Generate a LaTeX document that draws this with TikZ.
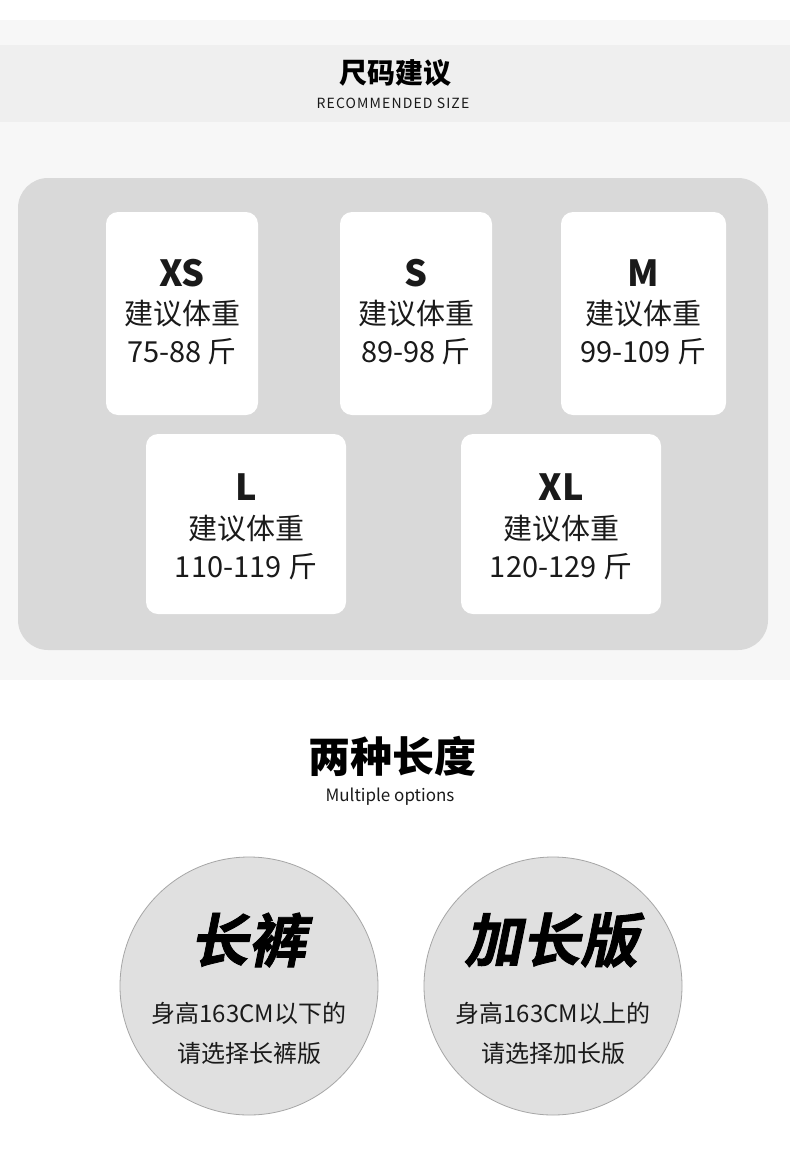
\documentclass[tikz,border=0pt]{standalone}
\usepackage{fontspec}
\setmainfont{Noto Sans CJK SC}
\newfontfamily\slantcjk[FakeSlant=0.2,FakeBold=1.5]{Noto Sans CJK SC Bold}
\newfontfamily\spacedfont[LetterSpace=8]{Noto Sans CJK SC}
\definecolor{bandgray}{HTML}{EFEFEF}
\definecolor{pagegray}{HTML}{F7F7F7}
\definecolor{boxgray}{HTML}{D9D9D9}
\definecolor{circgray}{HTML}{E0E0E0}
\definecolor{textdark}{HTML}{1A1A1A}
\tikzset{
  card/.style = {fill = white, rounded corners = 12pt},
  sizename/.style = {font = \fontsize{36}{36}\selectfont\bfseries, text = textdark},
  cardtext/.style = {font = \fontsize{29}{29}\selectfont, text = textdark},
  disc/.style = {circle, fill = circgray, draw = gray!70, line width = 0.8pt, minimum size = 258pt},
  disctitle/.style = {font = \fontsize{58}{58}\slantcjk, text = black},
  disctext/.style = {font = \fontsize{24}{24}\selectfont, text = textdark}
}
\begin{document}
\begin{tikzpicture}[x = 1pt, y = -1pt]
  \useasboundingbox (0, 0) rectangle (790, 1172);
  % backgrounds
  \fill [white] (0, 0) rectangle (790, 1172);
  \fill [pagegray] (0, 20) rectangle (790, 680);
  \fill [bandgray] (0, 45) rectangle (790, 122);
  \node [font = \fontsize{28}{28}\selectfont\bfseries] (title) at (395, 73) {尺码建议};
  \node [font = \fontsize{14}{14}\spacedfont, text = textdark] (subtitle) at (393, 103) {RECOMMENDED SIZE};
  \fill [boxgray, rounded corners = 30pt] (18, 178) rectangle (768, 650);
  % size cards
  \foreach \name/\xa/\xb/\ya/\yb/\wt/\da/\db/\dc in {XS/106/258/212/415/75-88/61/102/140,
      S/340/492/212/415/89-98/61/102/140, M/561/726/212/415/99-109/61/102/140,
      L/146/346/434/614/110-119/53/95/133, XL/461/661/434/614/120-129/53/95/133} {
    \fill [card] (\xa, \ya) rectangle (\xb, \yb);
    \node [sizename] (\name-size) at ({(\xa+\xb)/2}, \ya+\da) {\name};
    \node [cardtext] (\name-label) at ({(\xa+\xb)/2}, \ya+\db) {建议体重};
    \node [cardtext] (\name-weight) at ({(\xa+\xb)/2}, \ya+\dc) {\wt{} 斤};
  }
  % lengths
  \node [font = \fontsize{42}{42}\selectfont\bfseries] (lentitle) at (392, 756) {两种长度};
  \node [font = \fontsize{17}{17}\selectfont, text = textdark] (lensub) at (390, 797) {Multiple options};
  \node [disc] (long) at (249, 986) {};
  \node [disc] (extra) at (553, 986) {};
  \node [disctitle] at (248, 940) {长裤};
  \node [disctext] at (249, 1013) {身高163CM以下的};
  \node [disctext] at (249, 1053) {请选择长裤版};
  \node [disctitle] at (551, 940) {加长版};
  \node [disctext] at (553, 1013) {身高163CM以上的};
  \node [disctext] at (553, 1053) {请选择加长版};
\end{tikzpicture}
\end{document}
